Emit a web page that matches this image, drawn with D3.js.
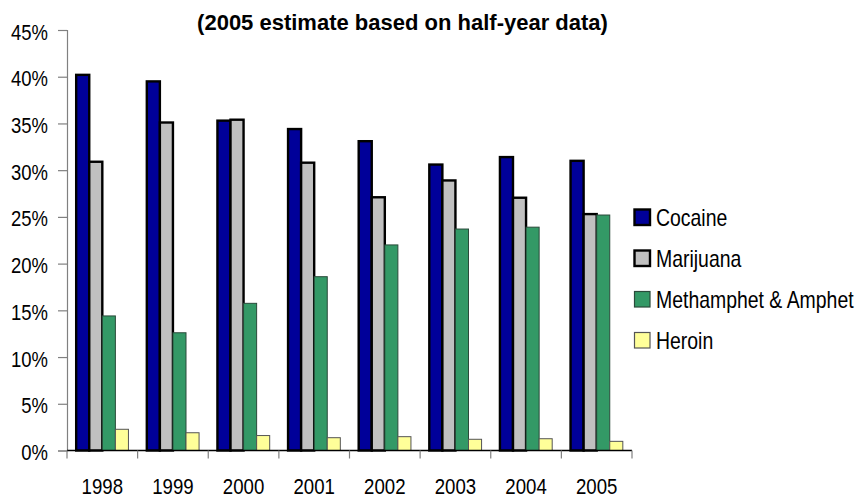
<!DOCTYPE html>
<html><head><meta charset="utf-8">
<script src="https://cdn.jsdelivr.net/npm/d3@7"></script>
<style>body{margin:0;background:#fff}svg{display:block}</style>
</head><body>
<svg id="c" width="857" height="498"></svg>
<script>
const years = ["1998","1999","2000","2001","2002","2003","2004","2005"];
const seriesNames = ["Cocaine","Marijuana","Methamphet & Amphet","Heroin"];
const cocaine   = [40.2, 39.5, 35.3, 34.4, 33.1, 30.6, 31.4, 31.0];
const marijuana = [30.9, 35.1, 35.4, 30.8, 27.1, 28.9, 27.05, 25.3];
const meth      = [14.4, 12.6, 15.75, 18.6, 22.0, 23.7, 23.9, 25.2];
const heroin    = [2.27, 1.9, 1.6, 1.37, 1.48, 1.2, 1.26, 0.98];
const yTicks = [0,5,10,15,20,25,30,35,40,45];
const title = "(2005 estimate based on half-year data)";

const colors = ["#000099","#C0C0C0","#339966","#FFFF99"];
const strokes = ["#000","#000","#2a4a3a","#555"];
const strokeW = [2.4,2.4,1,1];
const allSeries = [cocaine, marijuana, meth, heroin];
const font = "'Liberation Sans',Arial,sans-serif";

const svg = d3.select("#c");
const L = 67, R = 632, T = 30, B = 450.5;
const x = d3.scaleBand().domain(years).range([L, R]).paddingInner(0.26).paddingOuter(0.13);
const xs = d3.scaleBand().domain(seriesNames).range([0, x.bandwidth()]);
const y = d3.scaleLinear().domain([0,45]).range([B, T]);

// title
svg.append("text").attr("x", 402.5).attr("y", 29.5).attr("text-anchor","middle")
  .attr("font-family", font).attr("font-weight","bold").attr("font-size", 22)
  .attr("fill","#000").text(title);

// y axis
const sy = 0.86;
const ya = svg.append("g").attr("transform", `translate(${L},0)`)
  .call(d3.axisLeft(y).tickValues(yTicks).tickFormat(d => d + "%").tickSize(9).tickPadding(10));
ya.select(".domain").attr("stroke","#808080").attr("stroke-width",1.2);
ya.selectAll(".tick line").attr("stroke","#808080").attr("stroke-width",1.2);
ya.selectAll("text").attr("font-family", font).attr("font-size", 21.5).attr("fill","#000")
  .attr("x", -19 / sy).attr("dy", "0.42em").attr("transform", `scale(${sy},1)`);

// bars
allSeries.forEach((vals, si) => {
  svg.append("g").selectAll("rect").data(vals).join("rect")
    .attr("x", (d,i) => x(years[i]) + xs(seriesNames[si]))
    .attr("y", d => y(d))
    .attr("width", xs.bandwidth())
    .attr("height", d => B - y(d))
    .attr("fill", colors[si])
    .attr("stroke", strokes[si])
    .attr("stroke-width", strokeW[si]);
});

// x axis
const xa = svg.append("g").attr("transform", `translate(0,${B})`)
  .call(d3.axisBottom(x).tickSize(0).tickPadding(27));
xa.select(".domain").remove();
xa.selectAll("text").attr("font-family", font).attr("font-size", 23).attr("fill","#000")
  .attr("transform", "scale(0.81,1)");
svg.append("line").attr("x1", L).attr("x2", R).attr("y1", B).attr("y2", B)
  .attr("stroke","#000").attr("stroke-width",1.3);
const bounds = years.map((d,i) => L + i*(R-L)/years.length).concat([R]);
svg.append("g").selectAll("line").data(bounds).join("line")
  .attr("x1", d => d).attr("x2", d => d).attr("y1", B).attr("y2", B + 8)
  .attr("stroke","#808080").attr("stroke-width",1.2);

// legend
const lg = svg.append("g");
const ly = [226, 267, 308, 349];
const sl = 0.845;
seriesNames.forEach((n, i) => {
  lg.append("rect").attr("x", 634.5).attr("y", ly[i] - 16.5).attr("width", 15.5).attr("height", 15.5)
    .attr("fill", colors[i]).attr("stroke", strokes[i]).attr("stroke-width", i < 2 ? 2.4 : 1.2);
  lg.append("text").attr("x", 0).attr("y", 0)
    .attr("transform", `translate(656,${ly[i]}) scale(${sl},1)`)
    .attr("font-family", font).attr("font-size", 23).attr("fill","#000").text(n);
});
</script>
</body></html>
